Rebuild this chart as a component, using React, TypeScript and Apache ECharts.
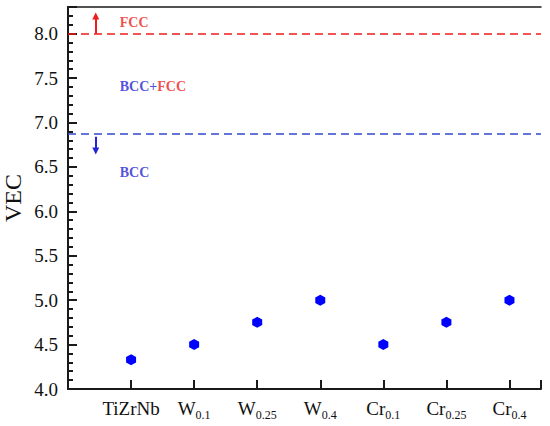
import React, { useEffect, useRef } from "react";
import * as echarts from "echarts";

const categories = ["TiZrNb", "W|0.1", "W|0.25", "W|0.4", "Cr|0.1", "Cr|0.25", "Cr|0.4"];
const vecValues = [4.33, 4.5, 4.75, 5.0, 4.5, 4.75, 5.0];
const yTickLabels = [4.0, 4.5, 5.0, 5.5, 6.0, 6.5, 7.0, 7.5, 8.0];
const fccLine = 8.0;
const bccLine = 6.87;
const yMin = 4.0;
const yMax = 8.3;
const xMin = 0;
const xMax = 7.5;
// annotation anchors in data space
const arrowX = 0.44;
const fccArrow = [fccLine, 8.2];
const bccArrow = [bccLine, 6.68];
const annotationX = 0.82;
const annotationY = [8.13, 7.4, 6.44];
const annotationText = ["FCC", "BCC+FCC", "BCC"];

const FONT = "Liberation Serif";
const RED = "#ee1c1c";
const BLUE = "#2424d4";
const LINE_BLUE = "#3347cc";
const AXIS = "#1a1a1a";

export default function App() {
  const ref = useRef<HTMLDivElement>(null);
  useEffect(() => {
    document.body.style.margin = "0";
    const chart = echarts.init(ref.current!, null, { renderer: "svg" });
    const hex = "path://M0,-1 L0.866,-0.5 L0.866,0.5 L0,1 L-0.866,0.5 L-0.866,-0.5 Z";
    chart.setOption({
      animation: false,
      grid: {
        left: 68,
        right: 9,
        top: 7,
        bottom: 37,
        containLabel: false,
        outerBoundsMode: "none",
      },
      xAxis: [
        {
          type: "value",
          min: xMin,
          max: xMax,
          interval: 1,
          axisLine: { show: true, lineStyle: { color: AXIS, width: 2 } },
          splitLine: { show: false },
          axisTick: { show: true, inside: true, length: 9, lineStyle: { color: AXIS, width: 2 } },
          axisLabel: {
            show: true,
            margin: 10,
            verticalAlign: "top",
            formatter: (v: number) => {
              if (Math.abs(v - Math.round(v)) > 1e-6) return "";
              const c = categories[Math.round(v) - 1];
              if (!c) return "";
              const parts = c.split("|");
              return parts.length > 1 ? `{n|${parts[0]}}{s|${parts[1]}}` : `{n|${parts[0]}}`;
            },
            rich: {
              n: { fontFamily: FONT, fontSize: 19, color: "#111", lineHeight: 19, verticalAlign: "top" },
              s: {
                fontFamily: FONT,
                fontSize: 12,
                color: "#111",
                lineHeight: 12,
                verticalAlign: "top",
                padding: [10, 0, 0, 0],
              },
            },
          },
        },
        {
          type: "value",
          min: xMin,
          max: xMax,
          position: "top",
          axisLine: { show: true, lineStyle: { color: AXIS, width: 1.5 } },
          axisTick: { show: false },
          axisLabel: { show: false },
          splitLine: { show: false },
        },
      ],
      yAxis: [
        {
          type: "value",
          min: yMin,
          max: yMax,
          interval: 0.5,
          axisLine: { show: true, lineStyle: { color: AXIS, width: 2 } },
          splitLine: { show: false },
          name: "VEC",
          nameLocation: "middle",
          nameGap: 43,
          nameMoveOverlap: false,
          nameTextStyle: { fontFamily: FONT, fontSize: 24, color: "#111" },
          axisTick: { show: true, inside: true, length: 9, lineStyle: { color: AXIS, width: 2 } },
          minorTick: { show: true, splitNumber: 5, length: 5, lineStyle: { color: AXIS, width: 2 } },
          axisLabel: {
            show: true,
            margin: 10,
            formatter: (v: number) => {
              const hit = yTickLabels.find((t) => Math.abs(t - v) < 1e-6);
              return hit === undefined ? "" : `{t|${hit.toFixed(1)}}`;
            },
            rich: { t: { fontFamily: FONT, fontSize: 19, color: "#111" } },
          },
        },
        {
          type: "value",
          min: yMin,
          max: yMax,
          position: "right",
          axisLine: { show: true, lineStyle: { color: AXIS, width: 1.5 } },
          axisTick: { show: false },
          axisLabel: { show: false },
          splitLine: { show: false },
        },
      ],
      series: [
        {
          type: "scatter",
          symbol: hex,
          symbolSize: [10, 11],
          itemStyle: { color: "#0000ff", opacity: 1 },
          data: vecValues.map((v, i) => [i + 1, v]),
          markLine: {
            silent: true,
            symbol: "none",
            label: { show: false },
            data: [
              { yAxis: fccLine, lineStyle: { color: RED, type: [8, 5], width: 1.5 } },
              { yAxis: bccLine, lineStyle: { color: LINE_BLUE, type: [8, 5], width: 1.5 } },
            ],
          },
        },
        {
          type: "scatter",
          symbolSize: 0,
          data: [],
          markLine: {
            silent: true,
            symbol: ["none", "triangle"],
            symbolSize: [7, 7],
            label: { show: false },
            data: [
              [
                { coord: [arrowX, fccArrow[0]], lineStyle: { color: RED, width: 2, type: "solid" } },
                { coord: [arrowX, fccArrow[1]] },
              ],
              [
                { coord: [arrowX, bccArrow[0] - 0.03], lineStyle: { color: BLUE, width: 2, type: "solid" } },
                { coord: [arrowX, bccArrow[1]] },
              ],
            ],
          },
        },
        {
          type: "scatter",
          symbolSize: 0,
          silent: true,
          data: annotationY.map((y) => [annotationX, y]),
          label: {
            show: true,
            position: "right",
            distance: 0,
            formatter: (p: any) => {
              const t = annotationText[p.dataIndex];
              return t
                .split(/(\+)/)
                .map((seg) => {
                  if (seg === "+") return "{b|+}";
                  if (seg === "FCC") return "{r|FCC}";
                  return "{b|" + seg + "}";
                })
                .join("");
            },
            rich: {
              r: { fontFamily: FONT, fontSize: 14, fontWeight: "bold", color: RED },
              b: { fontFamily: FONT, fontSize: 14, fontWeight: "bold", color: BLUE },
            },
          },
        },
      ],
    });
    return () => chart.dispose();
  }, []);
  return <div ref={ref} style={{ width: 550, height: 426 }} />;
}
